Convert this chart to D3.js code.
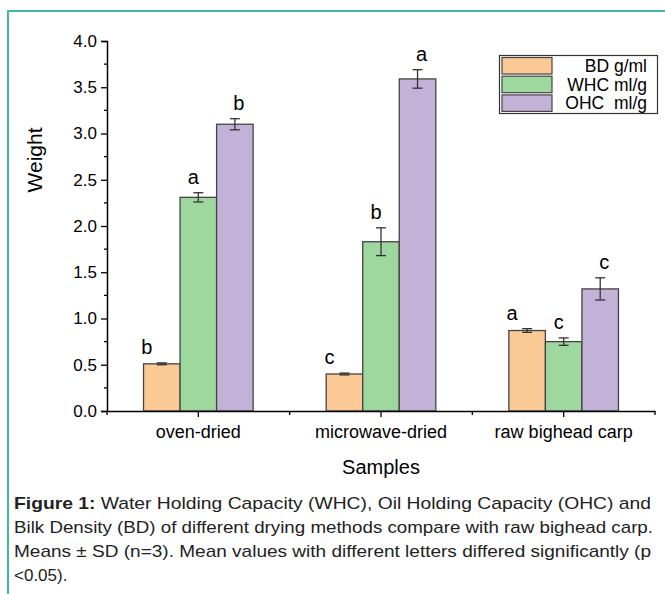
<!DOCTYPE html>
<html>
<head>
<meta charset="utf-8">
<script src="https://cdn.jsdelivr.net/npm/d3@7"></script>
<style>
  body { margin: 0; background: #fff; }
  svg { display: block; font-family: "Liberation Sans", Arial, sans-serif; }
  .cap { font-family: "Liberation Sans Narrow", "Arial Narrow", "Liberation Sans", sans-serif; }
</style>
</head>
<body>
<svg id="chart" width="665" height="594"></svg>
<script>
// data
var samples = ["oven-dried", "microwave-dried", "raw bighead carp"];
var seriesNames = ["BD g/ml", "WHC ml/g", "OHC  ml/g"];
var bdMean = [0.51, 0.40, 0.87];
var bdSd = [0.01, 0.01, 0.02];
var whcMean = [2.31, 1.83, 0.75];
var whcSd = [0.05, 0.15, 0.04];
var ohcMean = [3.10, 3.59, 1.32];
var ohcSd = [0.06, 0.10, 0.12];
var bdLetters = ["b", "c", "a"];
var whcLetters = ["a", "b", "c"];
var ohcLetters = ["b", "a", "c"];
var yTicks = [0, 0.5, 1, 1.5, 2, 2.5, 3, 3.5, 4];

var colors = ["#fbc995", "#9ed89e", "#c3b2d8"];
var letterShift = [-15, -5, 4];

var svg = d3.select("#chart");

// teal frame
svg.append("path")
  .attr("d", "M8,594 L8,11 L670,11")
  .attr("fill", "none")
  .attr("stroke", "#3fb8a6")
  .attr("stroke-width", 2);

var x0 = d3.scaleBand().domain(samples).range([107, 655]).paddingInner(0).paddingOuter(0);
var x1 = d3.scaleBand().domain(d3.range(3)).range([0, x0.bandwidth()]).paddingInner(0).paddingOuter(1);
var y = d3.scaleLinear().domain([0, 4]).range([411, 41]);

var series = [
  { mean: bdMean, sd: bdSd, letters: bdLetters },
  { mean: whcMean, sd: whcSd, letters: whcLetters },
  { mean: ohcMean, sd: ohcSd, letters: ohcLetters }
];

var rows = [];
samples.forEach(function (s, i) {
  series.forEach(function (ser, j) {
    rows.push({ sample: s, k: j, mean: ser.mean[i], sd: ser.sd[i], letter: ser.letters[i] });
  });
});

var g = svg.append("g");

g.selectAll("rect.bar")
  .data(rows)
  .enter()
  .append("rect")
  .attr("class", "bar")
  .attr("x", function (d) { return x0(d.sample) + x1(d.k) })
  .attr("width", x1.bandwidth())
  .attr("y", function (d) { return y(d.mean) })
  .attr("height", function (d) { return y(0) - y(d.mean) })
  .attr("fill", function (d) { return colors[d.k] })
  .attr("stroke", "#444")
  .attr("stroke-width", 1.3);

// error bars
var eb = g.selectAll("g.err").data(rows).enter().append("g")
  .attr("transform", function (d) { return "translate(" + (x0(d.sample) + x1(d.k) + x1.bandwidth() / 2) + ",0)" })
  .attr("stroke", "#333")
  .attr("stroke-width", 1.3);
eb.append("line")
  .attr("y1", function (d) { return y(d.mean - d.sd) })
  .attr("y2", function (d) { return y(d.mean + d.sd) });
eb.append("line").attr("x1", -5).attr("x2", 5)
  .attr("y1", function (d) { return y(d.mean + d.sd) })
  .attr("y2", function (d) { return y(d.mean + d.sd) });
eb.append("line").attr("x1", -5).attr("x2", 5)
  .attr("y1", function (d) { return y(d.mean - d.sd) })
  .attr("y2", function (d) { return y(d.mean - d.sd) });

// significance letters
g.selectAll("text.let")
  .data(rows)
  .enter()
  .append("text")
  .attr("x", function (d) { return x0(d.sample) + x1(d.k) + x1.bandwidth() / 2 + letterShift[d.k] })
  .attr("y", function (d) { return y(d.mean + d.sd) - 9 })
  .attr("text-anchor", "middle")
  .style("font-size", "20px")
  .text(function (d) { return d.letter });

// y axis
var yAxis = d3.axisLeft(y).tickValues(yTicks).tickFormat(d3.format(".1f")).tickSizeOuter(0).tickSize(6).tickPadding(4);
var ya = svg.append("g").attr("transform", "translate(107,0)").call(yAxis);
ya.selectAll("text").style("font-size", "17px").attr("fill", "#000");
ya.selectAll("line").attr("stroke-width", 1.3);
ya.select(".domain").attr("stroke-width", 1.5);
svg.append("g").selectAll("line")
  .data(d3.range(0.25, 4, 0.5))
  .enter().append("line")
  .attr("x1", 104).attr("x2", 107)
  .attr("y1", function (d) { return y(d) })
  .attr("y2", function (d) { return y(d) })
  .attr("stroke", "#000").attr("stroke-width", 1.3);

// x axis
var xAxis = d3.axisBottom(x0).tickSize(6).tickSizeOuter(0).tickPadding(8);
var xa = svg.append("g").attr("transform", "translate(0,411)").call(xAxis);
xa.selectAll("text").style("font-size", "18px").attr("fill", "#000");
xa.selectAll("line").attr("stroke-width", 1.3);
xa.select(".domain").attr("stroke-width", 1.5);
svg.append("g").selectAll("line")
  .data(x0.range().concat(samples.slice(1).map(function (s) { return x0(s) })))
  .enter().append("line")
  .attr("x1", function (d) { return d }).attr("x2", function (d) { return d })
  .attr("y1", 411).attr("y2", 415)
  .attr("stroke", "#000").attr("stroke-width", 1.3);

// axis titles
svg.append("text")
  .attr("transform", "translate(42,160) rotate(-90)")
  .attr("text-anchor", "middle")
  .style("font-size", "21px")
  .text("Weight");
svg.append("text")
  .attr("x", x0("microwave-dried") + x0.bandwidth() / 2)
  .attr("y", 474)
  .attr("text-anchor", "middle")
  .style("font-size", "20px")
  .text("Samples");

// legend
var lg = svg.append("g");
lg.append("rect").attr("x", 499.5).attr("y", 55.5).attr("width", 158).attr("height", 58)
  .attr("fill", "#fff").attr("stroke", "#333").attr("stroke-width", 1.2);
var li = lg.selectAll("g.li").data(seriesNames).enter().append("g")
  .attr("transform", function (d, i) { return "translate(0," + (57.5 + i * 18.7) + ")" });
li.append("rect").attr("x", 502).attr("width", 50).attr("height", 16.5)
  .attr("fill", function (d, i) { return colors[i] })
  .attr("stroke", "#444").attr("stroke-width", 1.2);
li.append("text").attr("x", 647).attr("y", 14.5).attr("text-anchor", "end")
  .style("font-size", "17.5px").style("white-space", "pre")
  .text(function (d) { return d });

// caption
var capLines = [
  [["Figure 1:", true], [" Water Holding Capacity (WHC), Oil Holding Capacity (OHC) and", false]],
  [["Bilk Density (BD) of different drying methods compare with raw bighead carp.", false]],
  [["Means \u00b1 SD (n=3). Mean values with different letters differed significantly (p", false]],
  [["<0.05).", false]]
];
var capWidths = [637, 639, 637, null];
capLines.forEach(function (line, i) {
  var t = svg.append("text").attr("class", "cap")
    .attr("x", 14).attr("y", 509 + i * 24)
    .style("font-size", "17px").attr("fill", "#222");
  if (capWidths[i]) t.attr("textLength", capWidths[i]).attr("lengthAdjust", "spacingAndGlyphs");
  line.forEach(function (p) {
    t.append("tspan").attr("font-weight", p[1] ? "bold" : null).text(p[0]);
  });
});
</script>
</body>
</html>
